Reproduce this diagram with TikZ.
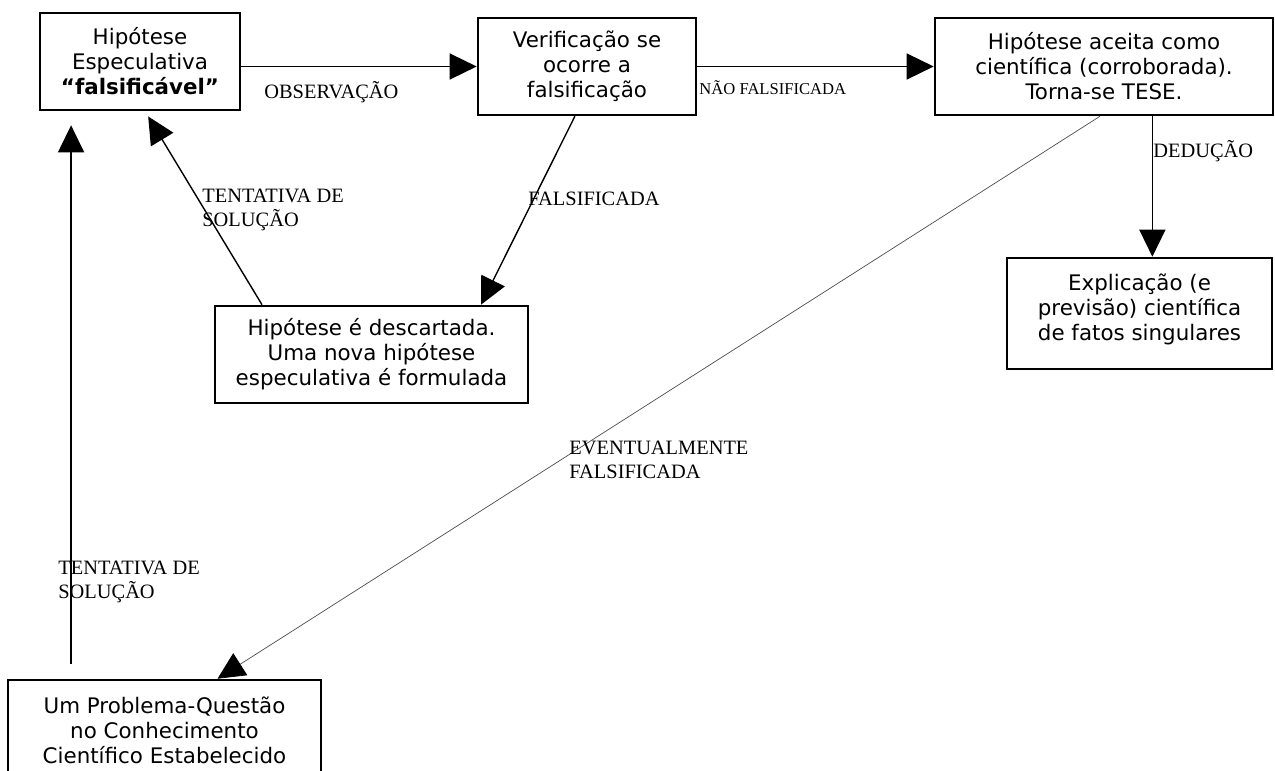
\documentclass[tikz,border=0pt]{standalone}
\usepackage{fontspec}
\setmainfont{Liberation Serif}
\newfontfamily\boxfont{DejaVu Sans}
\usepackage{tikz}
\usetikzlibrary{calc,arrows.meta}

\begin{document}
\begin{tikzpicture}[
    x=0.5pt,
    y=-0.5pt,
    >={Triangle[length=13.5pt,width=13pt]},
    box/.style={draw,line width=1.3pt,align=center,inner sep=0pt,
        font=\boxfont\fontsize{10.7}{12.5}\selectfont},
    lbl/.style={inner sep=0pt,anchor=west,align=left,
        font=\fontsize{10.2}{11.8}\selectfont},
    link/.style={->,line width=0.7pt}
]

\clip (0,0) rectangle (1275,771);

% Boxes
\node[box,minimum width=100pt,minimum height=48.5pt]
    (hip) at (140,61.5)
    {Hipótese\\Especulativa\\\textbf{“falsificável”}};
\node[box,minimum width=109pt,minimum height=48.5pt]
    (ver) at (587,66.5)
    {Verificação se\\ocorre a\\falsificação};
\node[box,minimum width=169pt,minimum height=48.5pt]
    (tese) at (1104,66.5)
    {Hipótese aceita como\\científica (corroborada).\\Torna-se TESE.};
\node[box,minimum width=132.5pt,minimum height=55.5pt]
    (expl) at (1139.5,313.5)
    {Explicação (e\\previsão) científica\\de fatos singulares\\[-6pt]};
\node[box,minimum width=156.5pt,minimum height=48.5pt]
    (desc) at (371.5,354.5)
    {Hipótese é descartada.\\Uma nova hipótese\\especulativa é formulada};
\node[box,minimum width=156.5pt,minimum height=50pt]
    (prob) at (164.5,730)
    {Um Problema-Questão\\no Conhecimento\\Científico Estabelecido};

% Arrows
\draw[link] (hip.east |- ver.west) -- (ver.west);
\draw[link] (ver.east) -- (tese.west);
\draw[link] ($(tese.south west)!0.642!(tese.south east)$) coordinate (dedtop)
    -- (dedtop |- expl.north);
\draw[link] ($(ver.south west)!0.445!(ver.south east)$)
    -- ($(desc.north west)!0.847!(desc.north east)$);
\draw[link,shorten >=3pt] ($(desc.north west)!0.153!(desc.north east)$)
    -- ($(hip.south west)!0.525!(hip.south east)$);
\draw[link,shorten <=7.5pt,shorten >=7pt]
    ($(prob.north west)!0.204!(prob.north east)$) coordinate (upfoot)
    -- (upfoot |- hip.south);
\draw[-{Triangle[length=13.5pt,width=13pt,color=black]},line width=0.35pt,black!70]
    ($(tese.south west)!0.488!(tese.south east)$)
    -- ($(prob.north west)!0.668!(prob.north east)$);

% Labels
\node[lbl] (obs) at (264,92) {OBSERVAÇÃO};
\node[lbl,font=\fontsize{8.3}{10}\selectfont] (naofal) at (699,88) {NÃO FALSIFICADA};
\node[lbl] (fal) at (528,199) {FALSIFICADA};
\node[lbl] (tentA) at (202,210) {TENTATIVA DE\\SOLUÇÃO};
\node[lbl] (ded) at (1153,151) {DEDUÇÃO};
\node[lbl] (event) at (569,460) {EVENTUALMENTE\\FALSIFICADA};
\node[lbl] (tentB) at (58,582) {TENTATIVA DE\\SOLUÇÃO};

\end{tikzpicture}
\end{document}
